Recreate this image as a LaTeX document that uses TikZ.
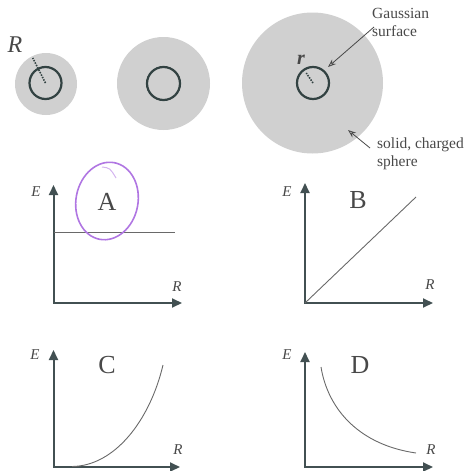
\documentclass[tikz,border=0pt]{standalone}
\usepackage{fontspec}
\setmainfont{Liberation Serif}
\usetikzlibrary{arrows.meta}
\definecolor{diskgray}{RGB}{208,208,208}
\definecolor{ringcol}{RGB}{50,66,66}
\definecolor{axiscol}{RGB}{66,80,82}
\definecolor{curvecol}{RGB}{105,105,105}
\definecolor{penpurple}{RGB}{176,118,226}
\definecolor{txtcol}{RGB}{72,72,72}
\begin{document}
\begin{tikzpicture}[x=1pt,y=-1pt,
  disk/.style={circle, fill=diskgray, inner sep=0pt, minimum size=#1},
  ring/.style={circle, draw=ringcol, line width=2.2pt, inner sep=0pt, minimum size=32pt},
  axis/.style={draw=axiscol, line width=2pt, {Triangle[length=10pt,width=9pt]}-{Triangle[length=10pt,width=9pt]}},
  curve/.style={draw=curvecol, line width=0.9pt},
  pointer/.style={draw=txtcol, line width=0.8pt, -{Stealth[open,length=8pt,width=6pt]}},
  lbl/.style={font=\fontsize{15.5}{18}\selectfont, text=txtcol, inner sep=0pt, anchor=west},
  axlbl/.style={font=\fontsize{15}{16}\selectfont\itshape, text=txtcol, inner sep=0pt},
  bigl/.style={font=\fontsize{26}{28}\selectfont, text=txtcol, inner sep=0pt},
  radiusline/.style={draw=ringcol, line width=1.6pt, dash pattern=on 1.5pt off 1.2pt},
  pen/.style={draw=penpurple, line width=1.6pt}
]
\useasboundingbox (0,0) rectangle (466,471);

% spheres
\node[disk=62pt] (s1) at (46,84) {};
\node[ring] (g1) at (45.5,83) {};
\node[disk=93pt] (s2) at (163.5,83.5) {};
\node[ring, minimum size=33pt] (g2) at (163.5,83.5) {};
\node[disk=141pt] (s3) at (312.5,83) {};
\node[ring] (g3) at (313,83) {};

\draw[radiusline, shorten >=2pt] (g1.center) -- (s1.117);
\draw[radiusline, shorten >=5pt] (g3.center) -- (g3.124);

\node[font=\fontsize{24}{26}\selectfont\itshape, text=txtcol, inner sep=0pt] (Rlbl) at (15,45) {R};
\node[font=\fontsize{20}{22}\selectfont\bfseries\itshape, text=txtcol, inner sep=0pt] (rlbl) at (301,60) {r};

% pointer labels
\node[lbl] (gauss1) at (372,13) {Gaussian};
\node[lbl] (gauss2) at (372,31) {surface};
\coordinate (gtail) at (374,27);
\coordinate (gtip) at (328,67);
\draw[pointer] (gtail) -- (gtip);

\node[lbl] (sol1) at (377,145) {solid, charged};
\node[lbl] (sol2) at (377,163) {sphere};
\coordinate (stail) at (370,148);
\coordinate (stip) at (348,130);
\draw[pointer] (stail) -- (stip);

% Panel A
\coordinate (oA) at (53.5,303);
\coordinate (yA) at (53.5,185);
\coordinate (xA) at (182,303);
\draw[axis] (yA) -- (oA) -- (xA);
\coordinate (hA) at (175,232);
\draw[curve] (oA |- hA) -- (hA);
\node[axlbl] (EA) at (36,192) {E};
\node[axlbl] (RA) at (177,287) {R};
\node[bigl] (A) at (107,202) {A};
\draw[pen, rotate around={-11:(107,201)}] (107,201) ellipse [x radius=31pt, y radius=39pt];
\draw[draw=penpurple, line width=1pt, opacity=0.55] (102,167) .. controls (110,168) .. (116,178);

% Panel B
\coordinate (oB) at (305,303);
\coordinate (yB) at (305,183);
\coordinate (xB) at (433,303);
\draw[axis] (yB) -- (oB) -- (xB);
\coordinate (eB) at (416,197);
\draw[curve] (oB) -- (eB);
\node[axlbl] (EB) at (287,192) {E};
\node[axlbl] (RB) at (430,285) {R};
\node[bigl] (B) at (358,200) {B};

% Panel C
\coordinate (oC) at (53.5,467);
\coordinate (yC) at (53.5,350);
\coordinate (xC) at (180,467);
\draw[axis] (yC) -- (oC) -- (xC);
\coordinate (sC) at (72,466.5);
\coordinate (eC) at (163,365);
\draw[curve] (sC) .. controls (115,466) and (150,420) .. (eC);
\node[axlbl] (EC) at (35,355) {E};
\node[axlbl] (RC) at (178,450) {R};
\node[bigl] (C) at (107,365) {C};

% Panel D
\coordinate (oD) at (305,467);
\coordinate (yD) at (305,352);
\coordinate (xD) at (433,467);
\draw[axis] (yD) -- (oD) -- (xD);
\coordinate (sD) at (321,367);
\coordinate (eD) at (416,453);
\draw[curve] (sD) .. controls (328,410) and (360,445) .. (eD);
\node[axlbl] (ED) at (287,355) {E};
\node[axlbl] (RD) at (431,450) {R};
\node[bigl] (D) at (360,365) {D};
\end{tikzpicture}
\end{document}
